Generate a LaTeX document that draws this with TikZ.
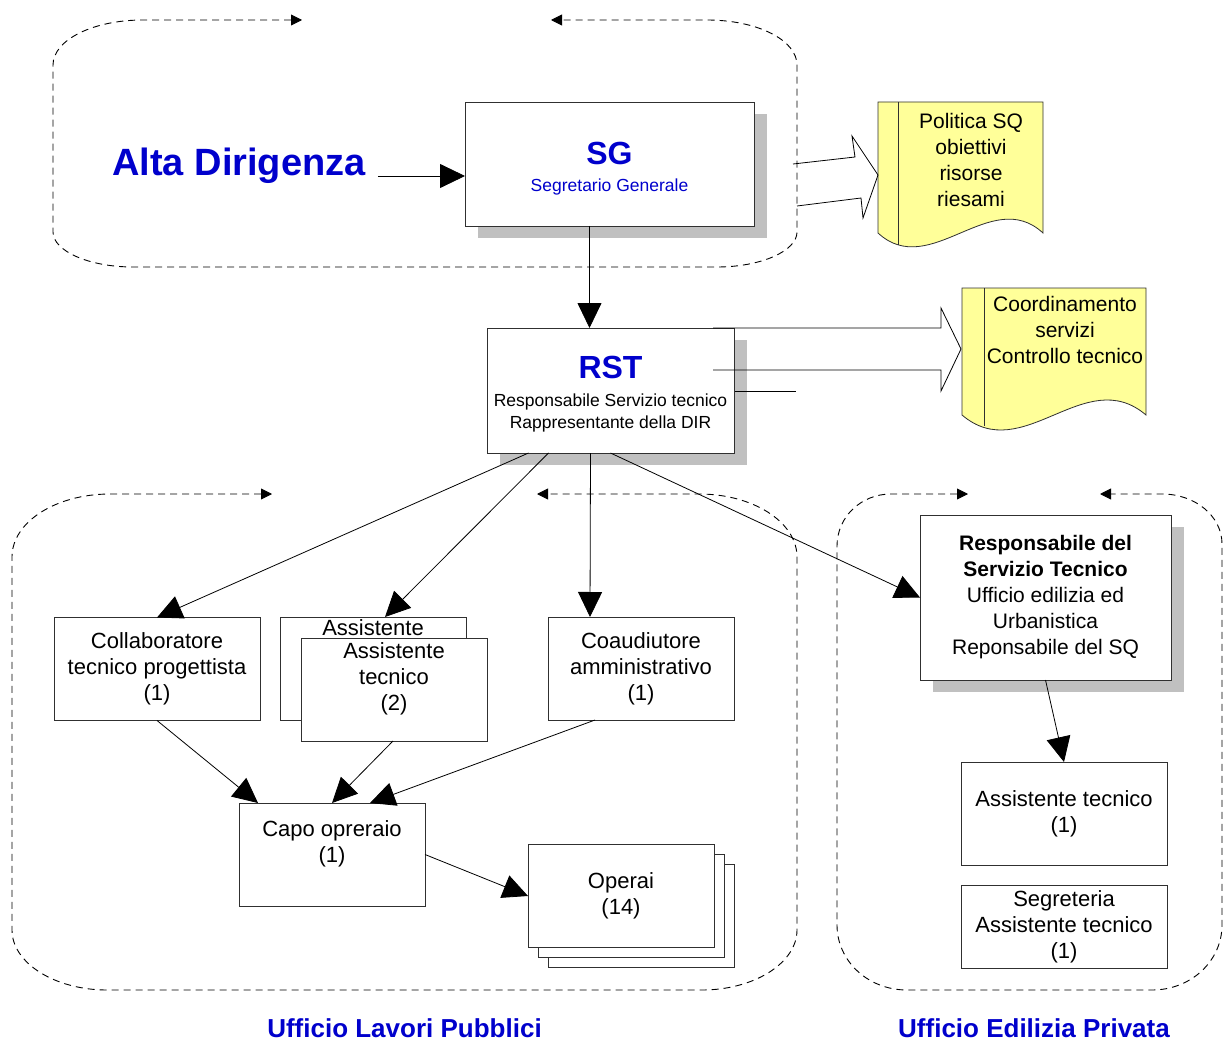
\documentclass[tikz,border=0pt]{standalone}
\usepackage{fontspec}
\setmainfont{Liberation Sans}
\usepackage{tikz}
\usetikzlibrary{arrows.meta,shadows}

\definecolor{titleblue}{RGB}{0,0,204}
\definecolor{docyellow}{RGB}{255,255,153}
\definecolor{shadowgray}{RGB}{192,192,192}
\definecolor{boxline}{RGB}{48,48,48}

\begin{document}
\begin{tikzpicture}[x=1pt, y=-1pt,
  box/.style={draw=boxline, fill=white, line width=0.8pt, inner sep=0pt, outer sep=0pt,
    align=center, minimum width=186pt, minimum height=103pt, font=\fontsize{22}{26}\selectfont},
  shadowbox/.style={box, drop shadow={shadow xshift=13pt, shadow yshift=-12pt, fill=shadowgray, opacity=1}},
  docshape/.style={draw=boxline, fill=docyellow, line width=0.8pt},
  doctext/.style={align=center, inner sep=0pt, font=\fontsize{21}{26}\selectfont},
  officetitle/.style={text=titleblue, inner sep=0pt, anchor=base, font=\fontsize{26}{30}\selectfont\bfseries},
  regionline/.style={line width=0.9pt, dash pattern=on 7pt off 5pt,
    {Triangle[length=11pt,width=11pt]}-{Triangle[length=11pt,width=11pt]}},
  conn/.style={line width=0.8pt, -{Triangle[length=25pt,width=24pt]}}
]
\useasboundingbox (0,0) rectangle (1224,1043);

% -- dashed office regions: each one is a single loop, open in the middle
%    of its top side, with a tip on both loose ends
\draw[regionline] (302,20) -- (143,20) .. controls (93,20) and (53,40) .. (53,65)
  -- (53,232) .. controls (53,251) and (89,267) .. (133,267)
  -- (717,267) .. controls (761,267) and (797,251) .. (797,232)
  -- (797,65) .. controls (797,40) and (757,20) .. (707,20) -- (551,20);
\draw[regionline] (272,494) -- (110,494) .. controls (56,494) and (12,522) .. (12,557)
  -- (12,930) .. controls (12,963) and (55,990) .. (107,990)
  -- (702,990) .. controls (754,990) and (797,963) .. (797,930)
  -- (797,557) .. controls (797,522) and (753,494) .. (699,494) -- (537,494);
\draw[regionline] (968,494) -- (891,494) .. controls (861,494) and (837,517) .. (837,546)
  -- (837,925) .. controls (837,961) and (868,990) .. (907,990)
  -- (1152,990) .. controls (1191,990) and (1222,961) .. (1222,925)
  -- (1222,544) .. controls (1222,516) and (1195,494) .. (1162,494) -- (1100,494);

% -- top management
\node[text=titleblue, inner sep=0pt, anchor=base, font=\fontsize{38}{40}\selectfont\bfseries] (alta) at (239,176) {Alta Dirigenza};
\node[shadowbox, minimum width=289pt, minimum height=124pt, text=titleblue, font=\fontsize{17.5}{22}\selectfont] (sg) at (609.5,164)
  {\rule{0pt}{32pt}{\fontsize{32}{32}\selectfont\bfseries SG}\\[5pt]Segretario Generale};
\node[shadowbox, minimum width=247pt, minimum height=125pt, font=\fontsize{17.5}{22}\selectfont] (rst) at (610.5,390.5)
  {\rule{0pt}{30pt}\textcolor{titleblue}{\fontsize{32}{32}\selectfont\bfseries RST}\\[6pt]Responsabile Servizio tecnico\\Rappresentante della DIR};

% -- documents
\draw[docshape] (878,102) -- (1043,102) -- (1043,233) .. controls (991,185) and (930,281) .. (878,233) -- cycle;
\draw[boxline, line width=0.8pt] (898,102) -- (898,245);
\node[doctext] (pol) at (971,160) {Politica SQ\\obiettivi\\risorse\\riesami};
\draw[docshape] (962,288) -- (1146,288) -- (1146,415) .. controls (1085,363) and (1023,467) .. (962,415) -- cycle;
\draw[boxline, line width=0.8pt] (984,288) -- (984,426);
\node[doctext] (coord) at (1065,330) {Coordinamento\\servizi\\Controllo tecnico};

% -- Ufficio Lavori Pubblici
\node[box, minimum width=206pt] (collab) at (157,669) {Collaboratore\\tecnico progettista\\(1)};
\node[box] (asstb) at (373,668.5) {};
\node[inner sep=0pt, font=\fontsize{22}{26}\selectfont] (asstbtext) at (373,628) {Assistente};
\node[box] (asst) at (394,689.5) {Assistente\\tecnico\\(2)\\~};
\node[box] (coad) at (641,668.5) {Coaudiutore\\amministrativo\\(1)};
\node[box] (capo) at (332,854.5) {Capo opreraio\\(1)\\~};
\node[box, copy shadow={shadow xshift=20pt, shadow yshift=-20pt},
  copy shadow={shadow xshift=10pt, shadow yshift=-10pt}] (operai) at (621,896) {Operai\\(14)};

% -- Ufficio Edilizia Privata
\node[shadowbox, minimum width=251pt, minimum height=165pt, font=\fontsize{21}{26}\selectfont] (resp) at (1045.5,597.5)
  {\textbf{Responsabile del}\\\textbf{Servizio Tecnico}\\Ufficio edilizia ed\\Urbanistica\\Reponsabile del SQ};
\node[box, minimum width=206pt] (asst1) at (1064,813.5) {Assistente tecnico\\(1)};
\node[box, minimum width=206pt, minimum height=83pt] (segr) at (1064,926.5) {Segreteria\\Assistente tecnico\\(1)};

\node[officetitle] (lptitle) at (404.5,1037) {Ufficio Lavori Pubblici};
\node[officetitle] (eptitle) at (1034,1037) {Ufficio Edilizia Privata};

% -- wide hollow arrows towards the documents
\draw[black, line width=0.8pt] (793,164) -- (855,157) -- (852,136) -- (878,175) -- (863,218) -- (861,198) -- (797,206);
\draw[black, line width=0.8pt] (713,328) -- (941,328) -- (941,308) -- (961,349) -- (941,391) -- (941,370) -- (713,370);
\draw[black, line width=0.8pt] (735,391) -- (796,391);

% -- connectors
\draw[conn] ([xshift=12pt]alta.base east) -- (sg.west |- alta.base);
\draw[conn] ([xshift=-20pt]sg.south) -- ([xshift=-20pt]sg.south |- rst.north);
\draw[conn] ([xshift=-82pt]rst.south) -- (collab.north);
\draw[conn] ([xshift=-62pt]rst.south) -- ([xshift=12pt]asstb.north);
\draw[conn] ([xshift=-20pt]rst.south) -- ([xshift=-51pt]coad.north);
\draw[conn] (rst.south) -- (resp.west);
\draw[conn] (collab.south) -- ([xshift=-74pt]capo.north);
\draw[conn] ([xshift=-1pt]asst.south) -- (capo.north);
\draw[conn] ([xshift=-46pt]coad.south) -- ([xshift=38pt]capo.north);
\draw[conn] (capo.east) -- (operai.west);
\draw[conn] (resp.south) -- (asst1.north);
\end{tikzpicture}
\end{document}
